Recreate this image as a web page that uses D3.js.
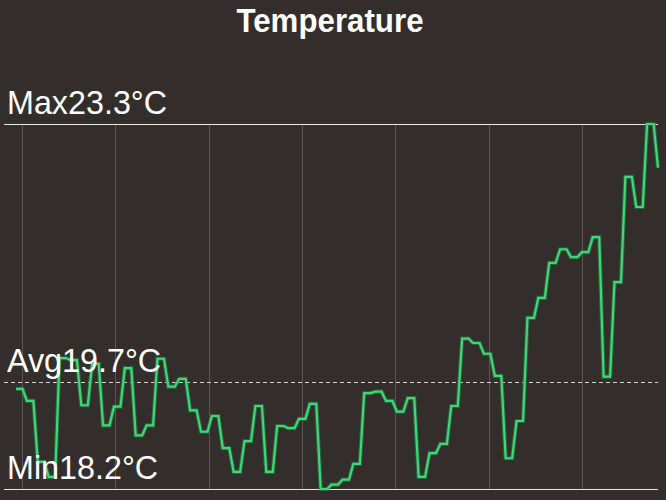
<!DOCTYPE html>
<html>
<head>
<meta charset="utf-8">
<script src="https://cdn.jsdelivr.net/npm/d3@7/dist/d3.min.js"></script>
<style>
  html, body { margin: 0; padding: 0; background: #332e2c; }
  svg { display: block; }
</style>
</head>
<body>
<svg id="chart" width="666" height="500"></svg>
<script>
// ---- data ----
const title = "Temperature";
const startTime = "13:56";          // first sample
const sampleMinutes = 7;            // sampling interval
const temps = [
  19.60, 19.43, 18.58, 18.37, 20.03, 20.00, 19.37, 19.95, 19.09, 19.35,
  19.89, 18.95, 19.09, 20.02, 19.63, 19.74, 19.30, 19.00, 19.22, 18.77,
  18.44, 18.87, 19.36, 18.44, 19.08, 19.05, 19.18, 19.39, 18.20, 18.26,
  18.33, 18.55, 19.54, 19.56, 19.43, 19.28, 19.47, 18.37, 18.70, 18.83,
  19.36, 20.30, 20.24, 20.09, 19.78, 18.63, 19.15, 20.59, 20.87, 21.36,
  21.55, 21.44, 21.51, 21.72, 19.77, 21.09, 22.56, 22.14, 23.30, 22.69
];
const refNames = ["Max", "Avg", "Min"];
const refValues = [23.3, 19.7, 18.2];
const unit = "°C";

// ---- layout ----
const svg = d3.select("#chart");
const W = 666, H = 500;
const plotLeft = 16, plotRight = 658, lineLeft = 4, lineRight = 658;
const plotTop = 124, plotBottom = 489;

const parse = d3.timeParse("%H:%M");
const t0 = parse(startTime);
const times = temps.map((_, i) => d3.timeMinute.offset(t0, i * sampleMinutes));

const x = d3.scaleTime().domain([times[0], times[times.length - 1]]).range([plotLeft, plotRight]);
const y = d3.scaleLinear().domain([refValues[2], refValues[0]]).range([plotBottom, plotTop]);

// background
svg.append("rect").attr("width", W).attr("height", H).attr("fill", "#332e2c");

// title
const tcx = 330;
svg.append("text")
  .attr("x", tcx).attr("y", 32)
  .attr("text-anchor", "middle")
  .attr("fill", "#ffffff")
  .attr("font-family", "Liberation Sans, Arial, sans-serif")
  .attr("font-weight", "bold")
  .attr("font-size", 34)
  .attr("transform", `translate(${tcx},0) scale(0.92,1) translate(${-tcx},0)`)
  .text(title);

// vertical hour gridlines
const hours = x.ticks(d3.timeHour.every(1));
svg.append("g").selectAll("line").data(hours).join("line")
  .attr("x1", d => Math.round(x(d)) + 0.5).attr("x2", d => Math.round(x(d)) + 0.5)
  .attr("y1", y(refValues[0])).attr("y2", y(refValues[2]))
  .attr("stroke", "#5b5553").attr("stroke-width", 1);

// reference lines
refValues.forEach((v, i) => {
  svg.append("line")
    .attr("x1", lineLeft).attr("x2", lineRight)
    .attr("y1", Math.round(y(v)) + 0.5).attr("y2", Math.round(y(v)) + 0.5)
    .attr("stroke", i === 1 ? "#d8d4d2" : "#e8e6e4")
    .attr("stroke-width", i === 1 ? 1 : 1.2)
    .attr("stroke-dasharray", i === 1 ? "4,3" : null);
});

// temperature line: each sample held ~60% of the interval, then moves to next
const pts = [];
temps.forEach((v, i) => {
  pts.push([times[i], v]);
  if (i < temps.length - 1) pts.push([d3.timeSecond.offset(times[i], Math.round(sampleMinutes * 60 * 0.6)), v]);
});
const line = d3.line().x(d => x(d[0])).y(d => y(d[1]));

svg.append("path").datum(pts)
  .attr("d", line).attr("fill", "none")
  .attr("stroke", "#1f8e48").attr("stroke-width", 4.2).attr("stroke-opacity", 0.6)
  .attr("stroke-linejoin", "miter");
svg.append("path").datum(pts)
  .attr("d", line).attr("fill", "none")
  .attr("stroke", "#43d57a").attr("stroke-width", 2.2)
  .attr("stroke-linejoin", "miter");

// labels
refValues.forEach((v, i) => {
  svg.append("text")
    .attr("x", 7).attr("y", y(v) - 10)
    .attr("fill", "#ffffff")
    .attr("font-family", "Liberation Sans, Arial, sans-serif")
    .attr("font-size", 34)
    .attr("transform", `translate(7,0) scale(0.95,1) translate(-7,0)`)
    .text(refNames[i] + v.toFixed(1) + unit);
});
</script>
</body>
</html>
